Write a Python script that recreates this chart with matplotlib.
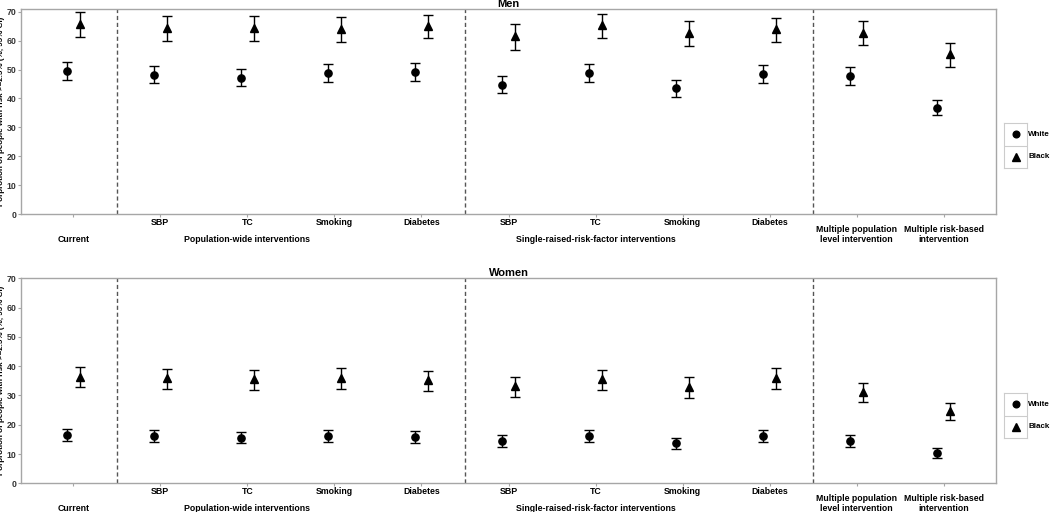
import numpy as np
import matplotlib
matplotlib.use("Agg")
import matplotlib.pyplot as plt

plt.rcParams['font.family'] = ['Liberation Sans', 'DejaVu Sans']
plt.rcParams['font.weight'] = 'bold'

# === Data ===
tick_labels = ["", "SBP", "TC", "Smoking", "Diabetes", "SBP", "TC", "Smoking", "Diabetes",
               "Multiple population\nlevel intervention", "Multiple risk-based\nintervention"]
group_labels = ["Current", "Population-wide interventions", "Single-raised-risk-factor interventions"]
group_pos = [1, 3, 7]

# Men
men_white = [49.4, 48.2, 47.2, 48.7, 49.1, 44.8, 48.8, 43.5, 48.6, 47.8, 36.8]
men_white_lo = [46.3, 45.3, 44.2, 45.7, 46.1, 41.9, 45.7, 40.6, 45.5, 44.8, 34.2]
men_white_hi = [52.5, 51.3, 50.2, 51.8, 52.2, 47.6, 51.8, 46.3, 51.5, 50.8, 39.6]
men_black = [65.6, 64.3, 64.5, 64.1, 65.1, 61.6, 65.3, 62.5, 63.9, 62.7, 55.4]
men_black_lo = [61.4, 60.0, 60.0, 59.6, 60.8, 56.8, 61.0, 58.0, 59.4, 58.5, 50.9]
men_black_hi = [69.7, 68.5, 68.5, 68.1, 68.9, 65.6, 69.2, 66.7, 67.9, 66.7, 59.3]

# Women
women_white = [16.5, 16.2, 15.6, 16.3, 15.9, 14.5, 16.2, 13.7, 16.2, 14.6, 10.2]
women_white_lo = [14.5, 14.1, 13.7, 14.2, 13.9, 12.4, 14.1, 11.7, 14.1, 12.5, 8.5]
women_white_hi = [18.6, 18.2, 17.6, 18.3, 18.0, 16.4, 18.1, 15.6, 18.3, 16.5, 12.1]
women_black = [36.4, 35.9, 35.5, 35.9, 35.3, 33.3, 35.6, 33.0, 36.1, 31.3, 24.8]
women_black_lo = [32.8, 32.3, 31.9, 32.2, 31.6, 29.6, 32.0, 29.1, 32.2, 27.9, 21.6]
women_black_hi = [39.7, 39.2, 38.7, 39.3, 38.5, 36.4, 38.8, 36.2, 39.3, 34.3, 27.5]

x = np.arange(1, len(tick_labels) + 1)
dodge = 0.075
W, H = 1050, 512
grey = "#a6a6a6"


def panel(top_px, bot_px, ymax, title, white, wlo, whi, black, blo, bhi, leg_top, leg_bot):
    left_px, right_px = 21, 996
    ax = fig.add_axes([left_px / W, 1 - bot_px / H, (right_px - left_px) / W, (bot_px - top_px) / H])
    ax.set_xlim(0.4, 11.6)
    ax.set_ylim(0, ymax)
    for s in ax.spines.values():
        s.set_color(grey)
        s.set_linewidth(1.0)
    for xv in [1.5, 5.5, 9.5]:
        ax.axvline(xv, color="#555555", lw=1.0, ls=(0, (3, 2)))

    white = np.array(white)
    black = np.array(black)
    ax.errorbar(x - dodge, white, yerr=[white - np.array(wlo), np.array(whi) - white],
                fmt="o", color="black", ms=5.2, capsize=3.6, elinewidth=1.0, capthick=1.0)
    ax.errorbar(x + dodge, black, yerr=[black - np.array(blo), np.array(bhi) - black],
                fmt="^", color="black", ms=6.0, capsize=3.6, elinewidth=1.0, capthick=1.0)

    ax.set_yticks(np.arange(0, 71, 10))
    ax.tick_params(axis="y", labelsize=6.3, labelcolor="#333333", length=2.5, width=0.8,
                   pad=1.0, color=grey)
    ax.set_xticks(x)
    ax.set_xticklabels([])
    ax.tick_params(axis="x", length=2.5, width=0.8, color=grey)

    # x labels
    for xi, lab in zip(x, tick_labels):
        if "\n" in lab:
            ax.annotate(lab, xy=(xi, 0), xycoords=("data", "axes fraction"),
                        xytext=(0, -8.0), textcoords="offset points",
                        ha="center", va="top", fontsize=6.3, fontweight="bold",
                        linespacing=1.05)
        elif lab:
            ax.annotate(lab, xy=(xi, 0), xycoords=("data", "axes fraction"),
                        xytext=(0, -2.5), textcoords="offset points",
                        ha="center", va="top", fontsize=6.3, fontweight="bold")
    for gp, gl in zip(group_pos, group_labels):
        ax.annotate(gl, xy=(gp, 0), xycoords=("data", "axes fraction"),
                    xytext=(0, -15.0), textcoords="offset points",
                    ha="center", va="top", fontsize=6.3, fontweight="bold")

    ax.set_ylabel("Porprotion of people with risk >=2.5% (%, 95% CI)", fontsize=5.8,
                  fontweight="bold")
    ax.yaxis.set_label_coords(-15.5 / (right_px - left_px), 0.5)
    ax.set_title(title, fontsize=8, fontweight="bold", pad=1.5)

    # legend with keyed boxes
    lax = fig.add_axes([1004 / W, 1 - leg_bot / H, 23 / W, (leg_bot - leg_top) / H])
    lax.set_xlim(0, 1)
    lax.set_ylim(0, 2)
    lax.set_xticks([])
    lax.set_yticks([])
    for s in lax.spines.values():
        s.set_color("#cccccc")
        s.set_linewidth(0.8)
    lax.axhline(1, color="#cccccc", lw=0.8)
    lax.plot([0.5], [1.5], "o", color="black", ms=4.8)
    lax.plot([0.5], [0.5], "^", color="black", ms=5.5)
    lax.text(1.05, 1.5, "White", fontsize=5.8, fontweight="bold", va="center", ha="left", clip_on=False)
    lax.text(1.05, 0.5, "Black", fontsize=5.8, fontweight="bold", va="center", ha="left", clip_on=False)
    return ax


fig = plt.figure(figsize=(10.5, 5.12), dpi=100)
panel(9, 214.3, 70.9, "Men", men_white, men_white_lo, men_white_hi,
      men_black, men_black_lo, men_black_hi, 123, 168)
panel(278.3, 483.3, 70, "Women", women_white, women_white_lo, women_white_hi,
      women_black, women_black_lo, women_black_hi, 393, 438)

plt.savefig("out.png", dpi=100)
